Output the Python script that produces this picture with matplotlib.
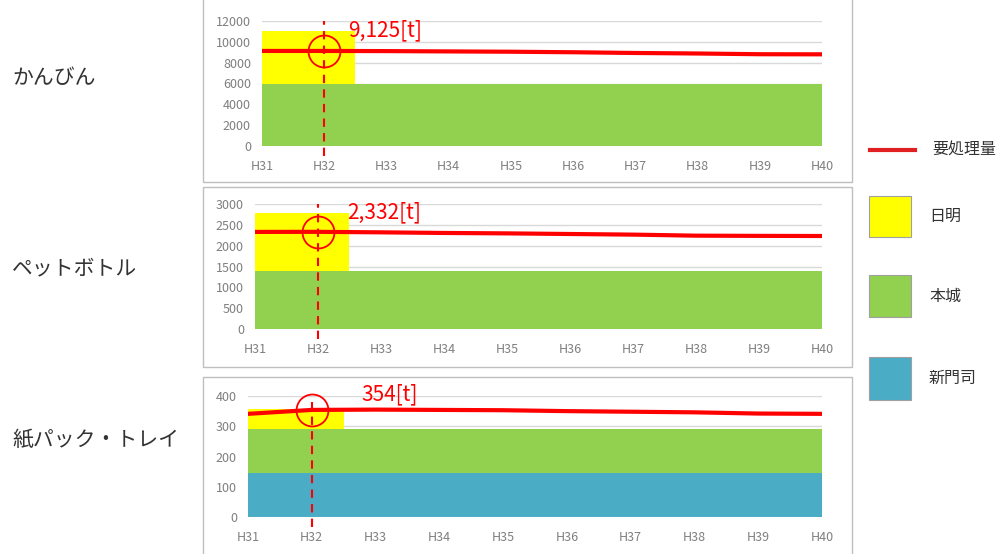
import numpy as np
import matplotlib.pyplot as plt
from matplotlib.patches import Rectangle
from matplotlib.lines import Line2D

plt.rcParams['font.family'] = ['Noto Sans CJK JP', 'DejaVu Sans']

years = ['H31', 'H32', 'H33', 'H34', 'H35', 'H36', 'H37', 'H38', 'H39', 'H40']
names = ['かんびん', 'ペットボトル', '紙パック・トレイ']

# 要処理量 [t]
need_kanbin = [9125, 9125, 9110, 9080, 9050, 9000, 8930, 8880, 8810, 8800]
need_pet = [2330, 2332, 2320, 2305, 2295, 2280, 2265, 2240, 2235, 2232]
need_paper = [341, 354, 355, 354, 353, 350, 348, 346, 342, 341]
needs = [need_kanbin, need_pet, need_paper]

# capacity of each plant [t]
hiaki = [5000, 1380, 68]
honjo = [6000, 1400, 143]
shinmonji = [0, 0, 147]
hiaki_end = 1.5   # 日明 runs until halfway H32-H33

y_max = [12000, 3000, 400]
y_step = [2000, 500, 100]
mark_year = 1  # H32

legend_labels = ['要処理量', '日明', '本城', '新門司']
c_red = '#FF0000'
c_yellow = '#FFFF00'
c_green = '#92D050'
c_blue = '#4BACC6'

W, H = 1003, 554
fig = plt.figure(figsize=(W / 100, H / 100), dpi=100)


def fx(px):
    return px / W


def fy(py):
    return 1 - py / H


# pixel boxes: left, top, right, bottom
boxes = [(262, 21, 822, 146), (255, 204, 822, 329), (248, 396, 822, 517)]
frames = [(203, -5, 852, 182), (203, 187, 852, 367), (203, 377, 852, 560)]
label_y = [78, 268, 440]
note_offset = [(24, 21), (29, 19), (50, 16)]

x = np.arange(len(years))
for i in range(3):
    fl, ft, fr, fb = frames[i]
    fig.add_artist(Rectangle((fx(fl), fy(fb)), fx(fr) - fx(fl), (fb - ft) / H,
                             transform=fig.transFigure, fill=False,
                             ec='#BFBFBF', lw=1))

    l, t, r, b = boxes[i]
    ax = fig.add_axes([fx(l), fy(b), fx(r) - fx(l), (b - t) / H])
    ax.set_xlim(0, len(years) - 1)
    ax.set_ylim(0, y_max[i])
    ax.set_yticks(np.arange(0, y_max[i] + 1, y_step[i]))
    ax.set_xticks(x, years)
    ax.grid(axis='y', color='#D9D9D9', lw=1)
    ax.set_axisbelow(True)
    for s in ax.spines.values():
        s.set_visible(False)
    ax.tick_params(length=0, colors='#7F7F7F', labelsize=9)
    ax.tick_params(axis='y', pad=8)
    ax.tick_params(axis='x', pad=10)

    base = shinmonji[i]
    if base > 0:
        ax.fill_between([0, 9], 0, base, color=c_blue, lw=0)
    ax.fill_between([0, 9], base, base + honjo[i], color=c_green, lw=0)
    ax.fill_between([0, hiaki_end], base + honjo[i], base + honjo[i] + hiaki[i],
                    color=c_yellow, lw=0)

    need = needs[i]
    ax.plot(x, need, color=c_red, lw=3, zorder=4)
    ax.plot(mark_year, need[mark_year], 'o', ms=23, mfc='none', mec=c_red,
            mew=1.3, clip_on=False, zorder=5)
    ax.axvline(mark_year, ymin=-0.08, ymax=1, color=c_red, lw=1.5,
               ls=(0, (4, 3)), clip_on=False, zorder=5)
    ax.annotate(f'{need[mark_year]:,}[t]', (mark_year, need[mark_year]),
                xytext=note_offset[i], textcoords='offset pixels',
                color=c_red, fontsize=15, va='center', ha='left')

    fig.text(fx(12), fy(label_y[i]), names[i], fontsize=15, va='center',
             ha='left', color='#333333')

# legend
fig.add_artist(Line2D([fx(870), fx(915)], [fy(150), fy(150)], color='#E02020',
                      lw=3, transform=fig.transFigure))
fig.text(fx(932), fy(150), legend_labels[0], fontsize=11.5, va='center',
         color='#333333')
squares = [(196, 237), (275, 317), (357, 400)]
for (top, bot), col, lab in zip(squares, [c_yellow, c_green, c_blue],
                                legend_labels[1:]):
    fig.add_artist(Rectangle((fx(869), fy(bot)), fx(911) - fx(869), (bot - top) / H,
                             transform=fig.transFigure, fc=col, ec='#A0A0A0',
                             lw=0.8))
    fig.text(fx(929), fy((top + bot) / 2), lab, fontsize=11.5, va='center',
             color='#333333')

fig.savefig('out.png', dpi=100)
